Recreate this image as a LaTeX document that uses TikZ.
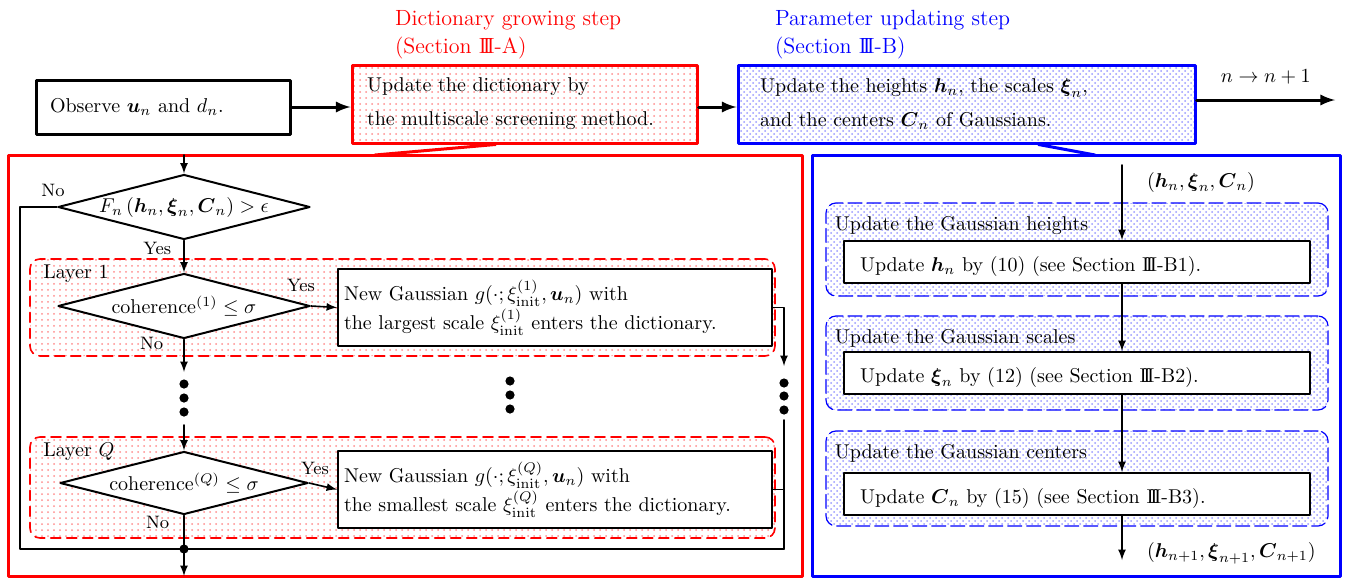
\documentclass[tikz,border=0pt]{standalone}
\usepackage{amsmath}
\usepackage{amssymb}
\usepackage{tikz}
\tikzset{>=latex}
\usetikzlibrary{shapes,arrows}
\usetikzlibrary{calc}
\usetikzlibrary{patterns}
\newcommand{\RomIII}{\mbox{I\kern-.17em I\kern-.17em I}}
\tikzset{
  title/.style={font=\fontsize{11}{14}\selectfont, align=left},
  topbox/.style={draw, line width=1.5pt, align=left, inner ysep=0pt},
  frame/.style={line width=1.5pt},
  group/.style={draw, rounded corners=5pt, inner sep=0pt, minimum width=372.5pt},
  layer/.style={group, red, line width=0.8pt, dash pattern=on 5pt off 3pt, pattern=dots, pattern color=red!45},
  stage/.style={group, blue, line width=0.6pt, dash pattern=on 7pt off 2.5pt, pattern=crosshatch dots, pattern color=blue!40, minimum width=251pt},
  decision/.style={diamond, draw, fill=white, line width=1pt, aspect=3.9, inner sep=0pt, minimum width=126pt, minimum height=32.5pt},
  newbox/.style={draw, fill=white, line width=1pt, align=left, text width=211pt, inner xsep=3pt, minimum height=38.5pt},
  updbox/.style={draw, fill=white, line width=1pt, align=left, text width=217pt, inner xsep=8pt, inner ysep=0pt, minimum height=21pt, text height=11pt, text depth=2pt},
  flow/.style={line width=0.8pt},
  bigflow/.style={line width=1.5pt},
  lbl/.style={font=\small, inner sep=1pt},
}

\begin{document}
\begin{tikzpicture}[line cap=round,line join=round,>=latex,x=0.5pt,y=-0.5pt]
\useasboundingbox (0,0) rectangle (1347,578);

% step titles
\node[title, red, anchor=north west] (growtitle) at (388,3) {Dictionary growing step\\(Section \RomIII-A)};
\node[title, blue, anchor=north west] (paramtitle) at (768,3) {Parameter updating step\\(Section \RomIII-B)};

% top row
\node[topbox, text width=113pt, inner xsep=7pt, minimum height=27pt] (obs) at (163,107) {Observe $\boldsymbol{u}_n$ and $d_n$.};
\node[topbox, draw=red, pattern=dots, pattern color=red!45, text width=157.5pt, inner xsep=7.5pt, minimum height=39pt] (grow) at (524.5,104) {Update the dictionary by\\[5pt]the multiscale screening method.};
\node[topbox, draw=blue, pattern=crosshatch dots, pattern color=blue!40, text width=206.5pt, inner xsep=11pt, minimum height=39pt] (param) at (966.5,104) {Update the heights $\boldsymbol{h}_n$, the scales $\boldsymbol{\xi}_n$,\\[5pt]and the centers $\boldsymbol{C}_n$ of Gaussians.};
\coordinate (next) at (1335,100);

\draw[bigflow,->] (obs.east) -- (obs.east -| grow.west);
\draw[bigflow,->] (grow.east |- obs.east) -- (param.west |- obs.east);
\draw[bigflow,->] (param.east |- next) -- node[above=4pt] (nlabel) {$n \rightarrow n+1$} (next);

% dictionary growing panel
\draw[frame, red] (8,155) rectangle (802,576);
\draw[frame, red] ($(grow.south west)+(145,0)$) -- (375,155);

\node[layer, minimum height=48.5pt] (layer1) at (402.5,307.5) {};
\node[layer, minimum height=50.5pt] (layerQ) at (402.5,487.5) {};
\node[anchor=north west, xshift=3.5pt] (lay1) at (layer1.north west) {Layer 1};
\node[anchor=north west, xshift=3.5pt] (layQ) at (layerQ.north west) {Layer $Q$};

\node[decision] (cond) at (184,207) {$F_n\left(\boldsymbol{h}_n, \boldsymbol{\xi}_n, \boldsymbol{C}_n\right) > \epsilon$};
\node[decision] (coh1) at (184,306) {coherence$^{(1)} \leq \sigma$};
\node[decision, minimum width=124pt, minimum height=31.5pt] (cohQ) at (184,483) {coherence$^{(Q)} \leq \sigma$};
\node[newbox] (new1) at (555,307.5) {New Gaussian $g(\cdot;\xi^{(1)}_{\mathrm{init}},\boldsymbol{u}_n)$ with\\ the largest scale $\xi^{(1)}_{\mathrm{init}}$ enters the dictionary.};
\node[newbox] (newQ) at (555,489.5) {New Gaussian $g(\cdot;\xi^{(Q)}_{\mathrm{init}},\boldsymbol{u}_n)$ with\\the smallest scale $\xi^{(Q)}_{\mathrm{init}}$ enters the dictionary.};

\coordinate (inL) at (184,155);
\coordinate (dotin) at (184,372);
\coordinate (dotout) at (184,425);
\coordinate (rin) at (784,366);
\coordinate (rout) at (784,420);
\coordinate (loopL) at (20,549);
\coordinate (loopR) at (784,549);
\coordinate (join) at (184,549);
\coordinate (outL) at (184,576);

\draw[flow,->] (inL) -- (cond.north);
\draw[flow] (cond.west) -- node[lbl, pos=0, anchor=south, xshift=-2pt, yshift=4pt] (no0) {No} (cond.west -| loopL) -- (loopL) -- (loopR);
\draw[flow,->] (cond.south) -- node[lbl, pos=0.25, anchor=east, xshift=-5pt] (yes0) {Yes} (coh1.north);
\draw[flow,->] (coh1.east) -- node[lbl, pos=0, anchor=south, xshift=-5pt, yshift=6pt] (yes1) {Yes} (new1.west);
\draw[flow,->] (coh1.south) -- node[lbl, pos=0.12, anchor=east, xshift=-9pt] (no1) {No} (dotin);
\draw[flow,->] (dotout) -- (cohQ.north);
\draw[flow,->] (cohQ.east) -- node[lbl, pos=0, anchor=south, xshift=3pt, yshift=3pt] (yesQ) {Yes} (newQ.west);
\draw[flow] (cohQ.south) -- node[lbl, pos=0.2, anchor=east, xshift=-6pt] (noQ) {No} (join);
\draw[flow,->] (new1.east) -| (rin);
\draw[flow] (rout) -- (loopR);
\draw[flow] (newQ.east) -- (newQ.east -| loopR);
\draw[flow,->] (join) -- (outL);
\fill (join) circle (2.3pt);

% vertical dots
\foreach \y in {384,398,412} \fill (184,\y) circle (2.3pt);
\foreach \y in {381,395,409} \fill (510,\y) circle (2.3pt);
\foreach \y in {383,396,410} \fill (784,\y) circle (2.3pt);

% parameter updating panel
\draw[frame, blue] (812,155) rectangle (1340,576);
\draw[frame, blue] ($(param.south west)+(302,0)$) -- (1095,155);

\node[stage, minimum height=46.5pt] (stageh) at (1077,249.5) {};
\node[stage, minimum height=47pt] (stagexi) at (1077,363) {};
\node[stage, minimum height=47.5pt] (stageC) at (1077,478.5) {};
\node[anchor=north west, xshift=1.2pt, yshift=-3.7pt] (labh) at (stageh.north west) {Update the Gaussian heights};
\node[anchor=north west, xshift=1.2pt, yshift=-3.7pt] (labxi) at (stagexi.north west) {Update the Gaussian scales};
\node[anchor=north west, xshift=1.2pt, yshift=-3.7pt] (labC) at (stageC.north west) {Update the Gaussian centers};

\node[updbox] (updh) at (1077,262) {Update $\boldsymbol{h}_n$ by (10) (see Section \RomIII-B1).};
\node[updbox] (updxi) at (1077,373) {Update $\boldsymbol{\xi}_n$ by (12) (see Section \RomIII-B2).};
\node[updbox] (updC) at (1077,494) {Update $\boldsymbol{C}_n$ by (15) (see Section \RomIII-B3).};

\coordinate (inR) at (1122,165);
\coordinate (outR) at (1122,560);
\draw[flow,->] (inR) -- (inR |- updh.north);
\draw[flow,->] (updh.south -| inR) -- (updxi.north -| inR);
\draw[flow,->] (updxi.south -| inR) -- (updC.north -| inR);
\draw[flow,->] (updC.south -| inR) -- (outR);
\node[anchor=west] (parin) at (1140,182) {$(\boldsymbol{h}_n, \boldsymbol{\xi}_n, \boldsymbol{C}_n)$};
\node[anchor=west] (parout) at (1140,553) {$(\boldsymbol{h}_{n+1}, \boldsymbol{\xi}_{n+1}, \boldsymbol{C}_{n+1})$};
\end{tikzpicture}
\end{document}
